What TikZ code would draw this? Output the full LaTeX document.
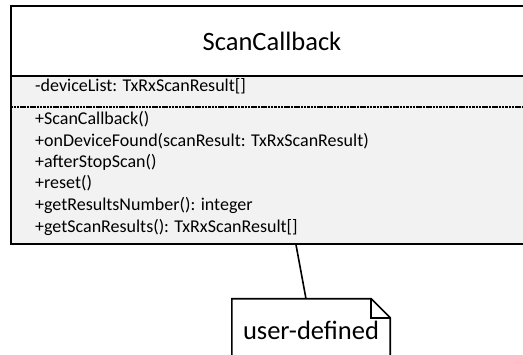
\documentclass[tikz,border=0pt]{standalone}
\usepackage{fontspec}
\setmainfont{Carlito}
\usetikzlibrary{calc}
\definecolor{cmpfill}{RGB}{242,242,242}

\begin{document}
\begin{tikzpicture}[x=1pt, y=-1pt,
  box/.style={draw, line width=1.6pt, inner sep=0pt},
  member/.style={anchor=west, inner sep=0pt, text height=0.75em, text depth=0.25em,
                 font=\fontsize{18}{21}\selectfont},
  big/.style={font=\fontsize{26.5}{31}\selectfont}]
\useasboundingbox (0,0) rectangle (523,355);
% class box: name, attribute and operation compartments
\node[box, fill=cmpfill, minimum width=522pt, minimum height=238pt] (cls) at (272,125) {};
\node[box, fill=white, minimum width=522pt, minimum height=70pt, anchor=north, big] (hdr) at (cls.north) {ScanCallback};
\node[member] (attr) at (35,89) {-deviceList: TxRxScanResult[]};
\draw[line width=2pt, dash pattern=on 2.5pt off 0.8pt] (cls.west |- 0,107) coordinate (sepL) -- (cls.east |- 0,107) coordinate (sepR);
\node[member] (op1) at (35,122) {+ScanCallback()};
\node[member] (op2) at (35,144) {+onDeviceFound(scanResult: TxRxScanResult)};
\node[member] (op3) at (35,165) {+afterStopScan()};
\node[member] (op4) at (35,186) {+reset()};
\node[member] (op5) at (35,208) {+getResultsNumber(): integer};
\node[member] (op6) at (35,230) {+getScanResults(): TxRxScanResult[]};
% note with folded corner
\node[big, minimum width=158pt, minimum height=62pt, inner sep=0pt] (note) at (311,330) {user-defined};
\draw[line width=1.6pt, line join=miter]
  (note.south west) -- (note.north west) -- ($(note.north east)+(-19,0)$) coordinate (fold)
  -- ($(note.north east)+(0,19)$) -- (note.south east);
\draw[line width=1.6pt] (fold) |- ($(note.north east)+(0,19)$);
% anchor line
\draw[line width=1.6pt] ($(cls.south)+(24,0)$) -- ($(note.north)+(-5,0)$);
\end{tikzpicture}
\end{document}
